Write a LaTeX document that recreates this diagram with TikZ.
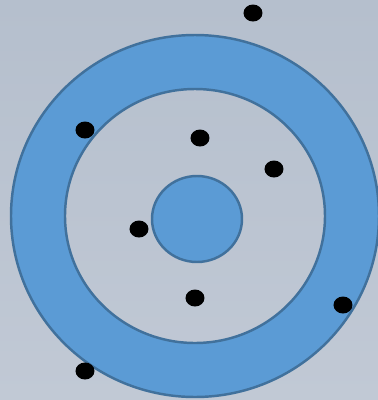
\documentclass[tikz,border=0pt]{standalone}
\usetikzlibrary{positioning}
\definecolor{ringblue}{HTML}{5B9BD5}
\definecolor{ringline}{HTML}{41719C}
\definecolor{bgtop}{HTML}{B5BFCD}
\definecolor{bgbot}{HTML}{C1C9D5}
\begin{document}
\begin{tikzpicture}[x=0.02cm,y=-0.02cm,ring/.style={fill=ringblue,draw=ringline,line width=1.4pt,even odd rule},dot/.style={fill=black,draw=none}]
\fill[top color=bgtop,bottom color=bgbot] (0,0) rectangle (378,400);
\useasboundingbox (0,0) rectangle (378,400);
% ring and centre disc
\path[ring] (195,216) ellipse [x radius=184,y radius=181] (195,216) ellipse [x radius=130,y radius=127];
\path[ring] (197,219) ellipse [x radius=45,y radius=43];
% dots
\foreach \px/\py in {253/13,85/130,200/138,274/169,139/229,195/298,343/305,85/371}
  \fill[dot] (\px,\py) ellipse [x radius=9.5,y radius=8.5];
\end{tikzpicture}
\end{document}
